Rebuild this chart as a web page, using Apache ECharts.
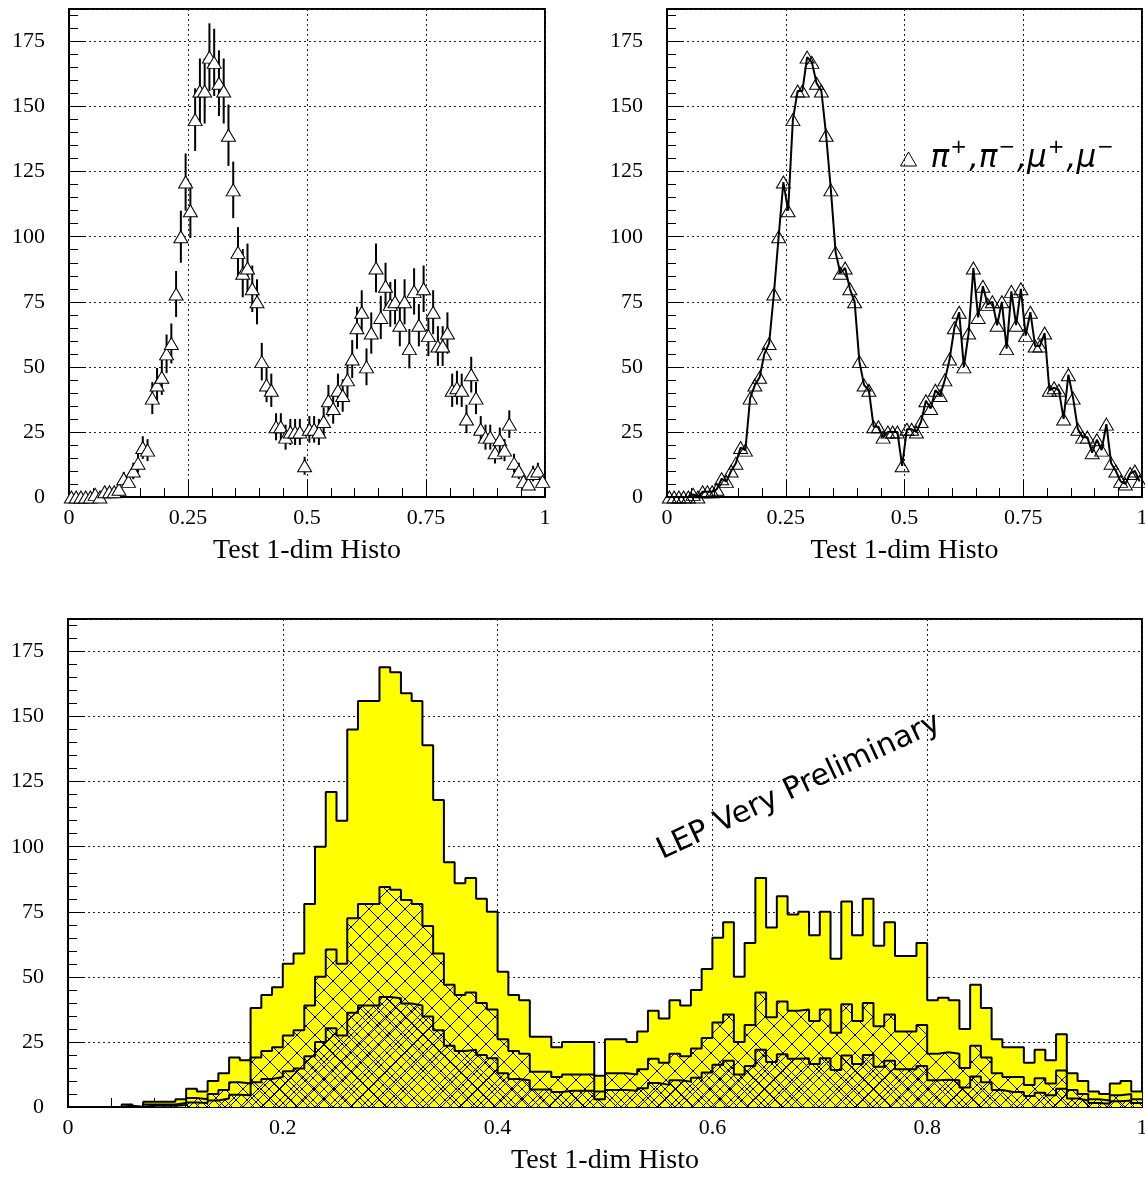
<!DOCTYPE html>
<html><head><meta charset="utf-8">
<script src="https://cdn.jsdelivr.net/npm/echarts@6/dist/echarts.min.js"></script>
<style>html,body{margin:0;padding:0;background:#fff}#c{width:1145px;height:1178px}</style>
</head><body><div id="c"></div>
<script>
// ---- data ----
const xRange = [0, 1];
const nBins = 100;
const yRange = [0, 187.5];
const topXInterval = 0.25;
const bottomXInterval = 0.2;
const yInterval = 25;
const xTitle = 'Test 1-dim Histo';
const watermark = 'LEP Very Preliminary';

// bin contents (total)
const counts = [0,0,0,0,0,1,0,2,2,2,
  3,7,6,10,13,19,18,38,43,46,
  55,59,78,100,121,110,145,156,156,169,
  167,159,156,139,118,94,86,88,80,75,
  52,43,41,27,27,23,25,25,25,12,
  26,26,25,29,37,34,41,39,45,53,
  65,71,50,63,88,69,81,74,75,66,
  75,57,79,66,80,62,71,58,58,63,
  41,42,41,30,47,38,26,23,23,17,
  22,18,28,13,10,6,5,9,10,6];
// error bars (half length)
const errors = [0,0,0,0,0,1,0,1.41,1.41,1.41,
  1.73,2.65,2.45,3.16,3.61,4.36,4.24,6.16,6.56,6.78,
  7.42,7.68,8.83,10,11,10.49,12.04,12.49,12.49,13,
  12.92,12.61,12.49,11.79,10.86,9.7,9.27,9.38,8.94,8.66,
  7.21,6.56,6.4,5.2,5.2,4.8,5,5,5,3.46,
  5.1,5.1,5,5.39,6.08,5.83,6.4,6.24,6.71,7.28,
  8.06,8.43,7.07,7.94,9.38,8.31,9,8.6,8.66,8.12,
  8.66,7.55,8.89,8.12,8.94,7.87,8.43,7.62,7.62,7.94,
  6.4,6.48,6.4,5.48,6.86,6.16,5.1,4.8,4.8,4.12,
  4.69,4.24,5.29,3.61,3.16,2.45,2.24,3,3.16,2.45];
// middle hatched histogram
const countsHalf = [0,0,0,0,0,0.5,0,1,1,1,
  1.5,3.5,3,5,6.5,9.5,9,19,21.5,23,
  27.5,29.5,39,50,60.5,55,72.5,78,78,84.5,
  83.5,79.5,78,69.5,59,47,43,44,40,37.5,
  26,21.5,20.5,13.5,13.5,11.5,12.5,12.5,12.5,6,
  13,13,12.5,14.5,18.5,17,20.5,19.5,22.5,26.5,
  32.5,35.5,25,31.5,44,34.5,40.5,37,37.5,33,
  37.5,28.5,39.5,33,40,31,35.5,29,29,31.5,
  20.5,21,20.5,15,23.5,19,13,11.5,11.5,8.5,
  11,9,14,6.5,5,3,2.5,4.5,5,3];
// inner (densely hatched) histogram
const countsQuarter = [0,0,0,0,0,0.25,0,0.5,0.5,0.5,
  0.75,1.75,1.5,2.5,3.25,4.75,4.5,9.5,10.75,11.5,
  13.75,14.75,19.5,25,30.25,27.5,36.25,39,39,42.25,
  41.75,39.75,39,34.75,29.5,23.5,21.5,22,20,18.75,
  13,10.75,10.25,6.75,6.75,5.75,6.25,6.25,6.25,3,
  6.5,6.5,6.25,7.25,9.25,8.5,10.25,9.75,11.25,13.25,
  16.25,17.75,12.5,15.75,22,17.25,20.25,18.5,18.75,16.5,
  18.75,14.25,19.75,16.5,20,15.5,17.75,14.5,14.5,15.75,
  10.25,10.5,10.25,7.5,11.75,9.5,6.5,5.75,5.75,4.25,
  5.5,4.5,7,3.25,2.5,1.5,1.25,2.25,2.5,1.5];

// ---- derived ----
const binW = (xRange[1] - xRange[0]) / nBins;
const centers = counts.map((_, i) => xRange[0] + (i + 0.5) * binW);
const edges = counts.map((_, i) => xRange[0] + i * binW);
function stepData(arr) {
  const d = arr.map((v, i) => [edges[i], v]);
  d.push([xRange[1], arr[arr.length - 1]]);
  return d;
}
function hatch(T, lw, off) {
  const c = document.createElement('canvas');
  c.width = T; c.height = T;
  const g = c.getContext('2d');
  g.strokeStyle = '#000'; g.lineWidth = lw;
  g.beginPath();
  for (let k = -2; k <= 1; k++) {
    g.moveTo(k * T + off, 0); g.lineTo(k * T + T + off, T);
    g.moveTo(k * T + off, T); g.lineTo(k * T + T + off, 0);
  }
  g.stroke();
  return c;
}

const serif = 'Liberation Serif';
const gridLine = { show: true, lineStyle: { color: '#222', width: 1, type: [2, 3] } };
function xAxis(gi, interval) {
  return {
    gridIndex: gi, type: 'value', min: xRange[0], max: xRange[1], interval: interval,
    name: xTitle, nameLocation: 'middle', nameGap: 40,
    nameTextStyle: { fontFamily: serif, fontSize: 28, color: '#000' },
    axisLine: { show: true, onZero: false, lineStyle: { color: '#000', width: 2 } },
    axisTick: { show: true, inside: true, length: 17, lineStyle: { color: '#000', width: 1 } },
    minorTick: { show: true, splitNumber: 5, length: 9, lineStyle: { color: '#000', width: 1 } },
    axisLabel: { margin: 10, fontFamily: serif, fontSize: 22, color: '#000' },
    splitLine: gridLine
  };
}
function yAxis(gi) {
  return {
    gridIndex: gi, type: 'value', min: yRange[0], max: yRange[1], interval: yInterval,
    axisLine: { show: true, lineStyle: { color: '#000', width: 2 } },
    axisTick: { show: true, inside: true, length: 17, lineStyle: { color: '#000', width: 1 } },
    minorTick: { show: true, splitNumber: 5, length: 9, lineStyle: { color: '#000', width: 1 } },
    axisLabel: { margin: 24, fontFamily: serif, fontSize: 22, color: '#000', showMaxLabel: false },
    splitLine: gridLine
  };
}
const gridBase = { show: true, borderColor: '#000', borderWidth: 2, backgroundColor: 'transparent', containLabel: false, outerBoundsMode: 'none' };

const chart = echarts.init(document.getElementById('c'), null, { renderer: 'canvas' });
chart.setOption({
  animation: false,
  backgroundColor: '#fff',
  grid: [
    Object.assign({ left: 69, top: 9, width: 476, height: 488 }, gridBase),
    Object.assign({ left: 667, top: 9, width: 475, height: 488 }, gridBase),
    Object.assign({ left: 68, top: 619, width: 1074, height: 488 }, gridBase)
  ],
  xAxis: [xAxis(0, topXInterval), xAxis(1, topXInterval), xAxis(2, bottomXInterval)],
  yAxis: [yAxis(0), yAxis(1), yAxis(2)],
  legend: {
    show: true, left: 895, top: 133, selectedMode: false,
    data: [{ name: 'pimu', icon: 'triangle' }],
    itemWidth: 16, itemHeight: 14,
    itemStyle: { color: 'rgba(0,0,0,0)', borderColor: '#000', borderWidth: 1 },
    formatter: () => '{p|}{m|π}{s|+}{m|,π}{s|−}{m|,μ}{s|+}{m|,μ}{s|−}',
    textStyle: {
      rich: {
        p: { width: 9 },
        m: { fontFamily: 'DejaVu Sans', fontStyle: 'italic', fontSize: 31, color: '#000' },
        s: { fontFamily: 'DejaVu Sans', fontSize: 20, color: '#000', padding: [0, 2, 22, 1] }
      }
    }
  },
  graphic: [{
    type: 'text', x: 799, y: 787, rotation: 25 * Math.PI / 180, z: 100,
    style: { text: watermark, font: '30px "DejaVu Sans"', fill: '#000', align: 'center', verticalAlign: 'middle' }
  }],
  series: [
    {
      type: 'custom', name: 'err', xAxisIndex: 0, yAxisIndex: 0, z: 3,
      data: counts.map((v, i) => [centers[i], v, errors[i]]),
      renderItem: (params, api) => {
        const x = api.value(0), v = api.value(1), e = api.value(2);
        if (!e) return { type: 'group', children: [] };
        const p1 = api.coord([x, v - e]), p2 = api.coord([x, v + e]);
        return { type: 'line', shape: { x1: p1[0], y1: p1[1], x2: p2[0], y2: p2[1] }, style: { stroke: '#000', lineWidth: 2 } };
      }
    },
    {
      type: 'scatter', name: 'pts', xAxisIndex: 0, yAxisIndex: 0, z: 4, clip: false,
      symbol: 'triangle', symbolSize: [14, 12],
      itemStyle: { color: '#fff', borderColor: '#000', borderWidth: 1, opacity: 1 },
      emphasis: { disabled: true },
      data: counts.map((v, i) => [centers[i], v])
    },
    {
      type: 'line', name: 'pimu', xAxisIndex: 1, yAxisIndex: 1, z: 4, clip: false,
      symbol: 'triangle', symbolSize: [14, 12], showAllSymbol: true,
      itemStyle: { color: 'rgba(0,0,0,0)', borderColor: '#000', borderWidth: 1 },
      lineStyle: { color: '#000', width: 2 },
      emphasis: { disabled: true },
      data: counts.map((v, i) => [centers[i], v])
    },
    {
      type: 'line', name: 'total', xAxisIndex: 2, yAxisIndex: 2, step: 'end', z: 2,
      symbol: 'none', lineStyle: { color: '#000', width: 2 },
      areaStyle: { color: '#ffff00', opacity: 1 },
      data: stepData(counts)
    },
    {
      type: 'line', name: 'half', xAxisIndex: 2, yAxisIndex: 2, step: 'end', z: 3,
      symbol: 'none', lineStyle: { color: '#000', width: 2 },
      areaStyle: { color: { image: hatch(18, 1, 0), repeat: 'repeat' }, opacity: 1 },
      data: stepData(countsHalf)
    },
    {
      type: 'line', name: 'quarter', xAxisIndex: 2, yAxisIndex: 2, step: 'end', z: 4,
      symbol: 'none', lineStyle: { color: '#000', width: 2 },
      areaStyle: { color: { image: hatch(11, 1, 5), repeat: 'repeat' }, opacity: 1 },
      data: stepData(countsQuarter)
    }
  ]
});
</script>
</body></html>
